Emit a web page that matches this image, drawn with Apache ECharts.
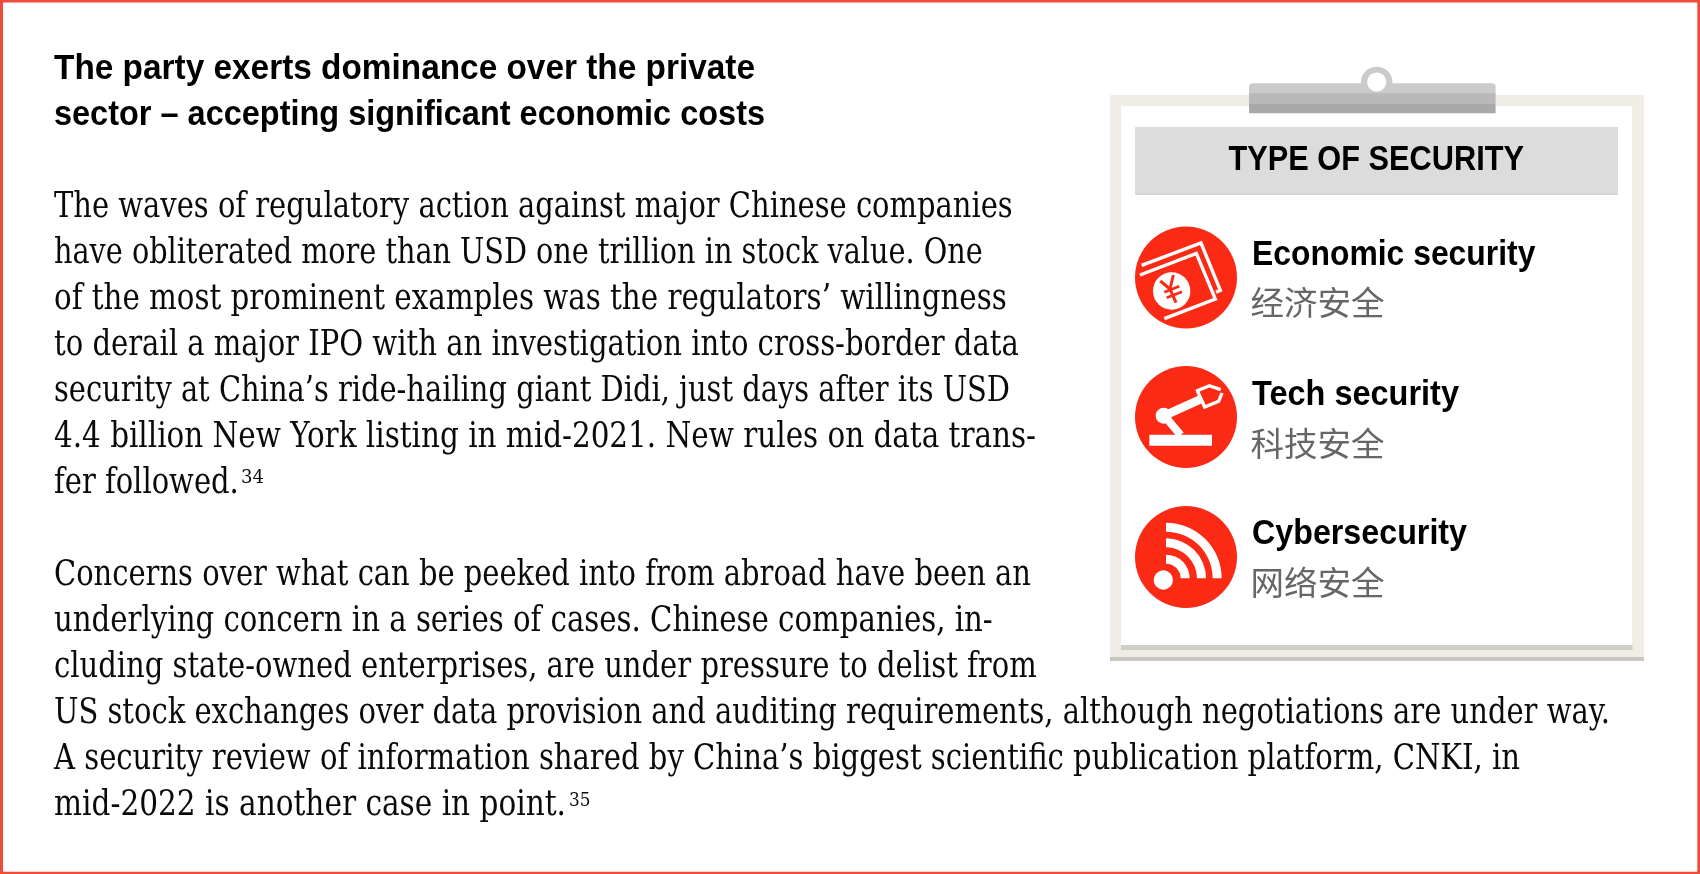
<!DOCTYPE html>
<html>
<head>
<meta charset="utf-8">
<style>html,body{margin:0;padding:0;background:#fff}#c{width:1700px;height:874px}</style>
<script src="https://cdn.jsdelivr.net/npm/echarts@6/dist/echarts.min.js"></script>
</head>
<body>
<div id="c"></div>
<script>
const headingLines = [
  "The party exerts dominance over the private",
  "sector – accepting significant economic costs"
];
const bodyLines = [
  "The waves of regulatory action against major Chinese companies",
  "have obliterated more than USD one trillion in stock value. One",
  "of the most prominent examples was the regulators’ willingness",
  "to derail a major IPO with an investigation into cross-border data",
  "security at China’s ride-hailing giant Didi, just days after its USD",
  "4.4 billion New York listing in mid-2021. New rules on data trans-",
  "fer followed.",
  "Concerns over what can be peeked into from abroad have been an",
  "underlying concern in a series of cases. Chinese companies, in-",
  "cluding state-owned enterprises, are under pressure to delist from",
  "US stock exchanges over data provision and auditing requirements, although negotiations are under way.",
  "A security review of information shared by China’s biggest scientific publication platform, CNKI, in",
  "mid-2022 is another case in point."
];
const footnotes = ["34", "35"];
const panelTitle = "TYPE OF SECURITY";
const securityTypes = ["Economic security", "Tech security", "Cybersecurity"];
const securityTypesZh = ["经济安全", "科技安全", "网络安全"];

// layout
const LEFT = 54;
const headingEnds = [755, 765];
const headingBase = [81, 127];
const bodyEnds = [1012.7, 982.7, 1006.7, 1018.7, 1010, 1036, 238.8, 1031, 992.7, 1036.7, 1610, 1520, 566];
const bodyBase = [220, 266, 312, 358, 404, 450, 496, 588, 634, 680, 726, 772, 818];
const typeEnds = [1535.4, 1459, 1467];
const typeBase = [267, 407, 546];
const zhMid = [302.5, 443, 582.5];
const circleY = [277.5, 417, 557];
const RED = "#fb2a15", SANS = '"Liberation Sans Narrow","Liberation Sans",sans-serif', SERIF = '"DejaVu Serif Condensed","DejaVu Serif",serif';

const meas = document.createElement("canvas").getContext("2d");
function fitted(text, x0, x1, base, size, family, weight, color) {
  meas.font = `${weight} ${size}px ${family}`;
  const w = meas.measureText(text).width;
  return { type: "text", x: x0, y: base - 0.3375 * size, scaleX: (x1 - x0) / w, originX: 0, originY: 0, silent: true,
    style: { text, x: 0, y: 0, fill: color, font: `${weight} ${size}px ${family}`, align: "left", verticalAlign: "middle" } };
}
const rect = (x, y, w, h, fill, r) => ({ type: "rect", silent: true, shape: { x, y, width: w, height: h, r: r || 0 }, style: { fill } });
const circle = (cx, cy, r, fill) => ({ type: "circle", silent: true, shape: { cx, cy, r }, style: { fill } });
const poly = (pts, color, w, closed) => ({ type: closed ? "polygon" : "polyline", silent: true, shape: { points: pts },
  style: closed ? { fill: color } : { fill: "none", stroke: color, lineWidth: w, lineJoin: "miter", lineCap: "butt" } });
const arcBand = (r0, r) => ({ type: "sector", silent: true, shape: { cx: 138, cy: 250, r0, r, startAngle: -Math.PI / 2, endAngle: 0 }, style: { fill: "#fff" } });

const W = "#fff";
const icons = [
  [ // banknotes with yen coin
    poly([[65, 151], [243, 84], [301, 226], [288, 232]], W, 10),
    poly([[60, 180], [229, 115], [286, 252], [133, 311]], W, 10),
    circle(155, 228, 56, W),
    poly([[121, 198], [150, 222]], RED, 9),
    poly([[160, 180], [150, 222], [168, 263]], RED, 9),
    poly([[133, 232], [178, 214]], RED, 8),
    poly([[140, 248], [186, 230]], RED, 8)
  ],
  [ // robot arm
    rect(88, 239, 188, 33, W),
    circle(131, 182, 24, W),
    poly([[136, 186], [182, 240]], W, 24),
    poly([[135, 181], [246, 131]], W, 25),
    poly([[228, 109], [268, 92], [302, 104]], W, 10),
    poly([[232, 107], [254, 156], [296, 139], [306, 114]], W, 10)
  ],
  [ // signal waves
    circle(130, 255, 29, W),
    arcBand(140, 167),
    arcBand(93, 120),
    arcBand(44, 71)
  ]
];

const elements = [
  rect(0, 0, 1700, 874, "#ef4a3a"),
  rect(3, 2.5, 1694.3, 869.2, "#fff"),

  // clipboard
  rect(1110, 95, 534, 566, "#c9c5bf"),
  rect(1110, 95, 534, 562, "#f0ece6"),
  rect(1121, 106, 511.6, 544, "#d0cec9"),
  rect(1121, 106, 511.6, 539, "#fff"),
  circle(1376.7, 82.5, 15.8, "#cbcbcb"),
  rect(1249, 83.3, 246.6, 12, "#cbcbcb", [4, 4, 0, 0]),
  rect(1249, 93.3, 246.6, 10, "#b9b9b9"),
  rect(1249, 103.3, 246.6, 10, "#a9a9a9"),
  circle(1376.7, 82, 9.6, "#fff"),

  rect(1135, 127, 483, 67.7, "#dcdcdc"),
  rect(1135, 193.4, 483, 1.3, "#cdcdcd"),
  fitted(panelTitle, 1228.5, 1524, 172, 35, SANS, "bold", "#000"),

  fitted(headingLines[0], LEFT, headingEnds[0], headingBase[0], 35, SANS, "bold", "#000"),
  fitted(headingLines[1], LEFT, headingEnds[1], headingBase[1], 35, SANS, "bold", "#000")
];

bodyLines.forEach((t, i) => elements.push(fitted(t, LEFT, bodyEnds[i], bodyBase[i], 34.5, SERIF, "normal", "#0a0a0a")));
elements.push(fitted(footnotes[0], 241, 264, 484.5, 19, SERIF, "normal", "#0a0a0a"));
elements.push(fitted(footnotes[1], 569, 590.5, 807, 19, SERIF, "normal", "#0a0a0a"));

securityTypes.forEach((t, i) => {
  elements.push(circle(1186, circleY[i], 51, RED));
  elements.push({ type: "group", x: 1120, y: 215 + 140 * i, scaleX: 1 / 3, scaleY: 1 / 3, silent: true, children: icons[i] });
  elements.push(fitted(t, 1252, typeEnds[i], typeBase[i], 35, SANS, "bold", "#000"));
  elements.push({ type: "text", x: 1250.5, y: zhMid[i], silent: true,
    style: { text: securityTypesZh[i], fill: "#666", font: 'normal 33.5px "Noto Sans CJK SC"', align: "left", verticalAlign: "middle" } });
});

const chart = echarts.init(document.getElementById("c"), null, { renderer: "canvas", width: 1700, height: 874 });
chart.setOption({ animation: false, backgroundColor: "#fff", graphic: { elements } });
</script>
</body>
</html>
